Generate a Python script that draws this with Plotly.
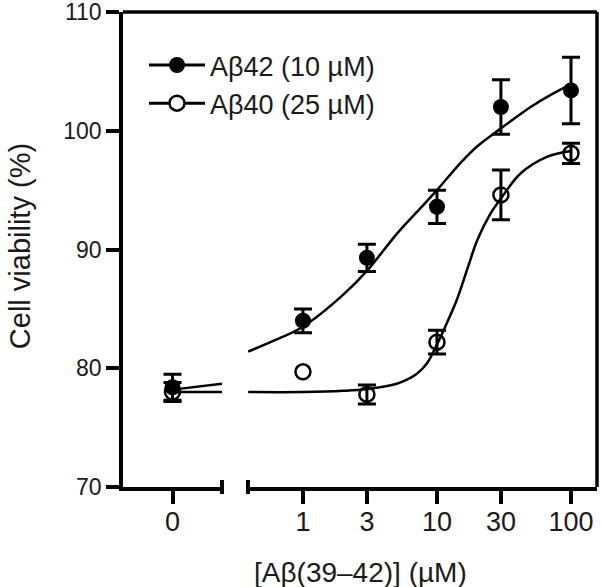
import plotly.graph_objects as go

# Concentrations (uM) on the log segment, plus the untreated "0" group
doses = [1, 3, 10, 30, 100]
zero_label = ["0"]

ab42_zero, ab42_zero_err = 78.4, 1.1
ab42 = [84.0, 89.3, 93.6, 102.0, 103.4]
ab42_err = [1.0, 1.15, 1.4, 2.3, 2.8]

ab40_zero, ab40_zero_err = 78.0, 0.8
ab40 = [79.7, 77.8, 82.2, 94.6, 98.1]
ab40_err = [None, 0.8, 1.0, 2.1, 0.85]  # no visible bar at 1 uM

# fitted curves
fit42_x = [0.39, 0.6, 1, 2, 3, 5, 7, 10, 15, 20, 30, 50, 70, 100]
fit42_y = [81.4, 82.3, 83.5, 86.2, 88.2, 91.3, 93.1, 95.0, 97.3, 98.7, 100.2, 102.0, 103.0, 103.9]
fit40_x = [0.39, 1, 2, 3, 5, 7, 8.4, 10, 11, 14, 17, 20, 25, 30, 42, 66, 100]
fit40_y = [78.0, 78.0, 78.1, 78.25, 78.7, 79.5, 80.4, 82.0, 83.0, 85.7, 88.5, 90.8, 93.0, 94.3, 96.4, 97.8, 98.3]

# short stretch of each curve in the "0" segment
fit_zero_x = [0, 1]
fit42_zero_y = [78.2, 78.7]
fit40_zero_y = [78.0, 78.0]

y_ticks = [70, 80, 90, 100, 110]

INK = "#1a1a1a"
FONT = "Liberation Sans, Arial, sans-serif"

fig = go.Figure()

# curves
curve = dict(color="black", width=2.5)
fig.add_trace(go.Scatter(x=fit_zero_x, y=fit42_zero_y, mode="lines", line=curve,
                         xaxis="x", yaxis="y", showlegend=False))
fig.add_trace(go.Scatter(x=fit_zero_x, y=fit40_zero_y, mode="lines", line=curve,
                         xaxis="x", yaxis="y", showlegend=False))
fig.add_trace(go.Scatter(x=fit42_x, y=fit42_y, mode="lines", line=dict(curve, shape="spline"),
                         xaxis="x2", yaxis="y", showlegend=False))
fig.add_trace(go.Scatter(x=fit40_x, y=fit40_y, mode="lines", line=dict(curve, shape="spline"),
                         xaxis="x2", yaxis="y", showlegend=False))

err_style = dict(type="data", color="black", thickness=3, width=9)
filled = dict(symbol="circle", size=16, color="black")
hollow = dict(symbol="circle-open", size=15, color="black", line=dict(width=2.5, color="black"))

# zero group
fig.add_trace(go.Scatter(x=[0], y=[ab40_zero], mode="markers", marker=hollow,
                         error_y=dict(err_style, array=[ab40_zero_err]),
                         xaxis="x", yaxis="y", showlegend=False))
fig.add_trace(go.Scatter(x=[0], y=[ab42_zero], mode="markers", marker=filled,
                         error_y=dict(err_style, array=[ab42_zero_err]),
                         xaxis="x", yaxis="y", showlegend=False))

# dose series
fig.add_trace(go.Scatter(x=doses, y=ab42, mode="markers", marker=filled,
                         error_y=dict(err_style, array=ab42_err),
                         xaxis="x2", yaxis="y", showlegend=False))
# Abeta40: points with a bar, and points whose bar is hidden by the marker
with_bar = [i for i, e in enumerate(ab40_err) if e is not None]
no_bar = [i for i, e in enumerate(ab40_err) if e is None]
fig.add_trace(go.Scatter(x=[doses[i] for i in with_bar], y=[ab40[i] for i in with_bar],
                         mode="markers", marker=hollow,
                         error_y=dict(err_style, array=[ab40_err[i] for i in with_bar]),
                         xaxis="x2", yaxis="y", showlegend=False))
fig.add_trace(go.Scatter(x=[doses[i] for i in no_bar], y=[ab40[i] for i in no_bar],
                         mode="markers", marker=hollow,
                         xaxis="x2", yaxis="y", showlegend=False))

# legend entries
fig.add_trace(go.Scatter(x=[None], y=[None], mode="lines+markers", name="Aβ42 (10 µM)",
                         marker=dict(symbol="circle", size=17, color="black"),
                         line=dict(color="black", width=3), legendgroup="a",
                         xaxis="x2", yaxis="y"))
fig.add_trace(go.Scatter(x=[None], y=[None], mode="lines+markers", name="Aβ40 (25 µM)",
                         marker=dict(symbol="circle", size=15, color="white",
                                     line=dict(color="black", width=2.5)),
                         line=dict(color="black", width=3), legendgroup="b",
                         xaxis="x2", yaxis="y"))

axis_common = dict(showline=True, linecolor="black", linewidth=3.5, ticks="outside",
                   ticklen=13, tickwidth=3.5, tickcolor="black", showgrid=False,
                   zeroline=False, ticklabeloverflow="allow", automargin=False)

L = 474.0
fig.update_layout(
    width=601, height=587,
    margin=dict(l=123, r=4, t=12, b=100),
    paper_bgcolor="white", plot_bgcolor="white",
    font=dict(family=FONT, color=INK),
    xaxis=dict(axis_common, domain=[0, 99 / L], range=[-1, 1], tickvals=[0],
               ticktext=zero_label, tickfont=dict(size=27), anchor="y",
               ticklabelstandoff=-5),
    xaxis2=dict(axis_common, domain=[125 / L, 1], type="log", range=[-0.41, 2.194],
                tickvals=doses, ticktext=[str(d) for d in doses], tickfont=dict(size=27),
                anchor="y", ticklabelstandoff=-5),
    yaxis=dict(axis_common, range=[70, 110], tickvals=y_ticks, tickfont=dict(size=23),
               anchor="x"),
    showlegend=True,
    legend=dict(x=0.0443, y=0.939, xanchor="left", yanchor="top", bgcolor="rgba(0,0,0,0)",
                font=dict(size=27, color=INK), itemwidth=56, tracegroupgap=0),
    annotations=[
        dict(text="[Aβ(39–42)] (µM)", xref="paper", yref="paper", x=0.5, y=-0.179,
             xanchor="center", yanchor="middle", showarrow=False,
             font=dict(size=28, color=INK)),
        dict(text="Cell viability (%)", xref="paper", yref="paper", x=-0.2173, y=0.507,
             xanchor="center", yanchor="middle", textangle=-90, showarrow=False,
             font=dict(size=29, color=INK)),
    ],
    shapes=[
        dict(type="line", xref="paper", yref="paper", x0=0, x1=1, y0=1, y1=1,
             line=dict(color="black", width=3.5)),
        dict(type="line", xref="paper", yref="paper", x0=1, x1=1, y0=0, y1=1,
             line=dict(color="black", width=3.5)),
        dict(type="line", xref="paper", yref="paper", x0=99 / L, x1=99 / L,
             y0=-0.0147, y1=0.0147, line=dict(color="black", width=4)),
        dict(type="line", xref="paper", yref="paper", x0=125 / L, x1=125 / L,
             y0=-0.0147, y1=0.0147, line=dict(color="black", width=4)),
    ],
)

# page has a default 8px body margin; drop it so the figure sits at the window origin
fig.write_html("out.html", config={"displayModeBar": False},
               post_script="document.body.style.margin='0';")
